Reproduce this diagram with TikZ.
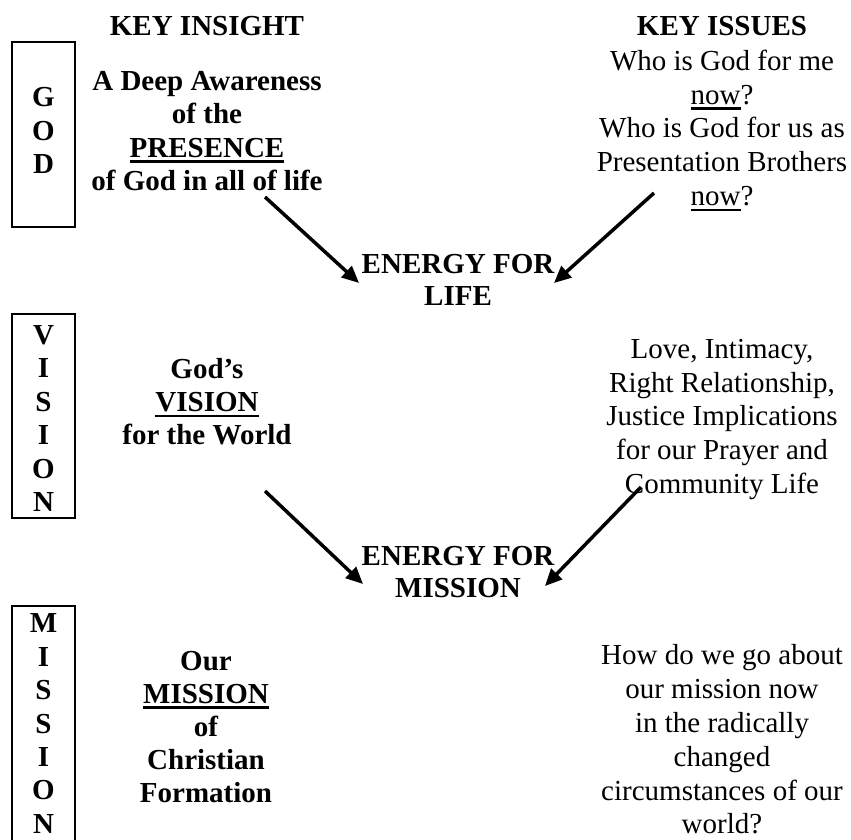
\documentclass[tikz,border=0pt]{standalone}
\usepackage{fontspec}
\setmainfont{Liberation Serif}
\usetikzlibrary{arrows.meta}
\newcommand\myul[1]{\setbox0\hbox{#1}\rlap{\rule[-5.8pt]{\wd0}{2.6pt}}\box0}
\begin{document}
\begin{tikzpicture}[x=1pt,y=-1pt,
  reg/.style={font=\fontsize{29}{33.8}\selectfont, align=center, inner sep=0pt},
  bld/.style={font=\fontsize{29}{33.2}\selectfont\bfseries, align=center, inner sep=0pt},
  nrg/.style={font=\fontsize{29}{32}\selectfont\bfseries, align=center, inner sep=0pt},
  letters/.style={font=\fontsize{29}{33.4}\selectfont\bfseries, align=center, inner sep=0pt},
  letterbox/.style={draw, line width=2.6pt, minimum width=63pt, inner sep=0pt},
  arr/.style={line width=3.5pt, -{Triangle[length=17pt,width=15pt]}}]
\useasboundingbox (0,0) rectangle (851,839);
\clip (0,0) rectangle (851,839);

% side boxes
\node[letterbox, minimum height=185pt] (godbox) at (43.5,134.5) {};
\node[letters] (godtxt) at (43.5,130.5) {G\\O\\D};
\node[letterbox, minimum height=204pt] (visbox) at (43.5,416) {};
\node[letters] (vistxt) at (43.5,418.5) {V\\I\\S\\I\\O\\N};
\node[letterbox, minimum height=254pt] (misbox) at (43.5,733) {};
\node[letters] (mistxt) at (43.5,723.5) {M\\I\\S\\S\\I\\O\\N};

% headings
\node[bld, anchor=base] (insighthead) at (207,35) {KEY INSIGHT};
\node[bld, anchor=base] (issueshead) at (722,35) {KEY ISSUES};

% left column
\node[bld] (presence) at (207,131) {A Deep Awareness\\of the\\\myul{PRESENCE}\\of God in all of life};
\node[bld] (vision) at (207,401.5) {God’s\\\myul{VISION}\\for the World};
\node[bld] (mission) at (206,727) {Our\\\myul{MISSION}\\of\\Christian\\Formation};

% right column
\node[reg] (whoisgod) at (722,130.5) {Who is God for me\\\myul{now}?\\Who is God for us as\\Presentation Brothers\\\myul{now}?};
\node[reg] (love) at (722,419.5) {Love, Intimacy,\\Right Relationship,\\Justice Implications\\for our Prayer and\\Community Life};
\node[reg] (howdowe) at (722,739.5) {How do we go about\\our mission now\\in the radically\\changed\\circumstances of our\\world?};

% energy
\node[nrg] (elife) at (458,280) {ENERGY FOR\\LIFE};
\node[nrg] (emission) at (458,572.5) {ENERGY FOR\\MISSION};

% arrow ends
\coordinate (a1s) at (265,197);
\coordinate (a1e) at (359,283);
\coordinate (a2s) at (654,193);
\coordinate (a2e) at (554,283);
\coordinate (a3s) at (265,491);
\coordinate (a3e) at (363,584);
\coordinate (a4s) at (641,487);
\coordinate (a4e) at (545,586);
\draw[arr] (a1s) -- (a1e);
\draw[arr] (a2s) -- (a2e);
\draw[arr] (a3s) -- (a3e);
\draw[arr] (a4s) -- (a4e);
\end{tikzpicture}
\end{document}
